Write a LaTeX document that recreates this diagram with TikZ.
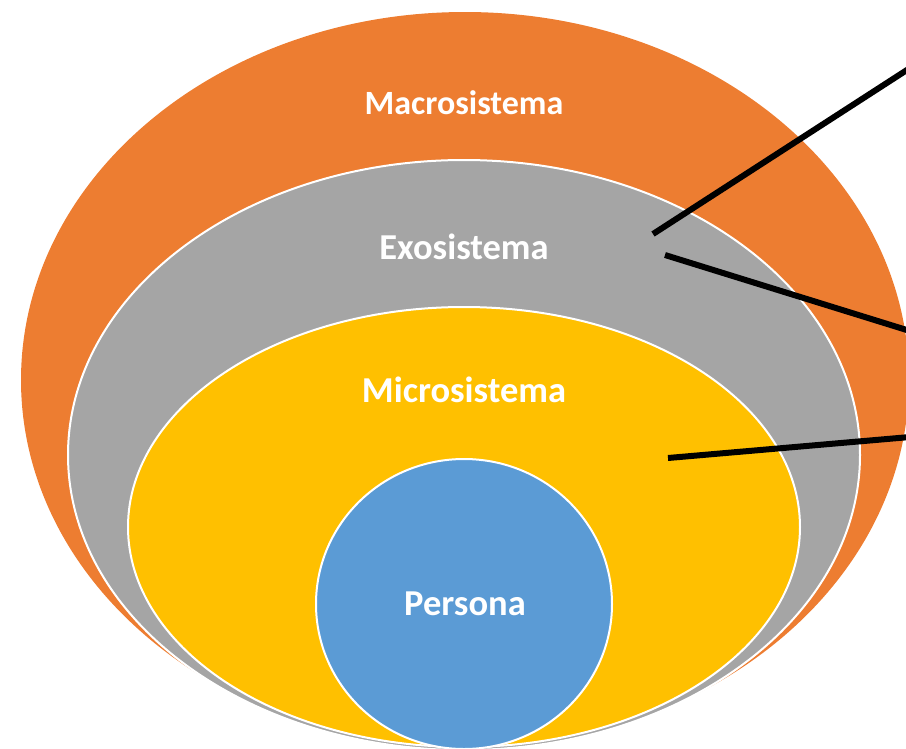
\documentclass[tikz,border=0pt]{standalone}
\usepackage{fontspec}
\setmainfont{Carlito}
\definecolor{macro}{HTML}{ED7D31}
\definecolor{exo}{HTML}{A5A5A5}
\definecolor{micro}{HTML}{FFC000}
\definecolor{pers}{HTML}{5B9BD5}
\tikzset{
  ring/.style={draw=white, line width=2pt},
  lbl/.style={text=white, font=\fontsize{36.5}{40}\selectfont\bfseries, inner sep=0pt},
  biglbl/.style={lbl, font=\fontsize{34}{38}\selectfont\bfseries},
  pointer/.style={draw=black, line width=6pt}
}
\begin{document}
\begin{tikzpicture}[x=1pt,y=-1pt]
\useasboundingbox (0,0) rectangle (906,748);
\clip (0,0) rectangle (906,748);
\fill[macro] (465,380) ellipse [x radius=444, y radius=368];
\filldraw[fill=exo, ring] (464,455) ellipse [x radius=396, y radius=295];
\filldraw[fill=micro, ring] (464,527) ellipse [x radius=336, y radius=220];
\filldraw[fill=pers, ring] (464,604) ellipse [x radius=148, y radius=145];
\node[biglbl] (macro) at (464,103) {Macrosistema};
\node[lbl] (exo) at (464,247) {Exosistema};
\node[lbl] (micro) at (464,390) {Microsistema};
\node[lbl] (persona) at (465,604) {Persona};
\coordinate (a1) at (653,234);
\coordinate (b1) at (910,68);
\coordinate (a2) at (665,255);
\coordinate (b2) at (910,331);
\coordinate (a3) at (668,458);
\coordinate (b3) at (910,437);
\draw[pointer] (a1) -- (b1);
\draw[pointer] (a2) -- (b2);
\draw[pointer] (a3) -- (b3);
\end{tikzpicture}
\end{document}
